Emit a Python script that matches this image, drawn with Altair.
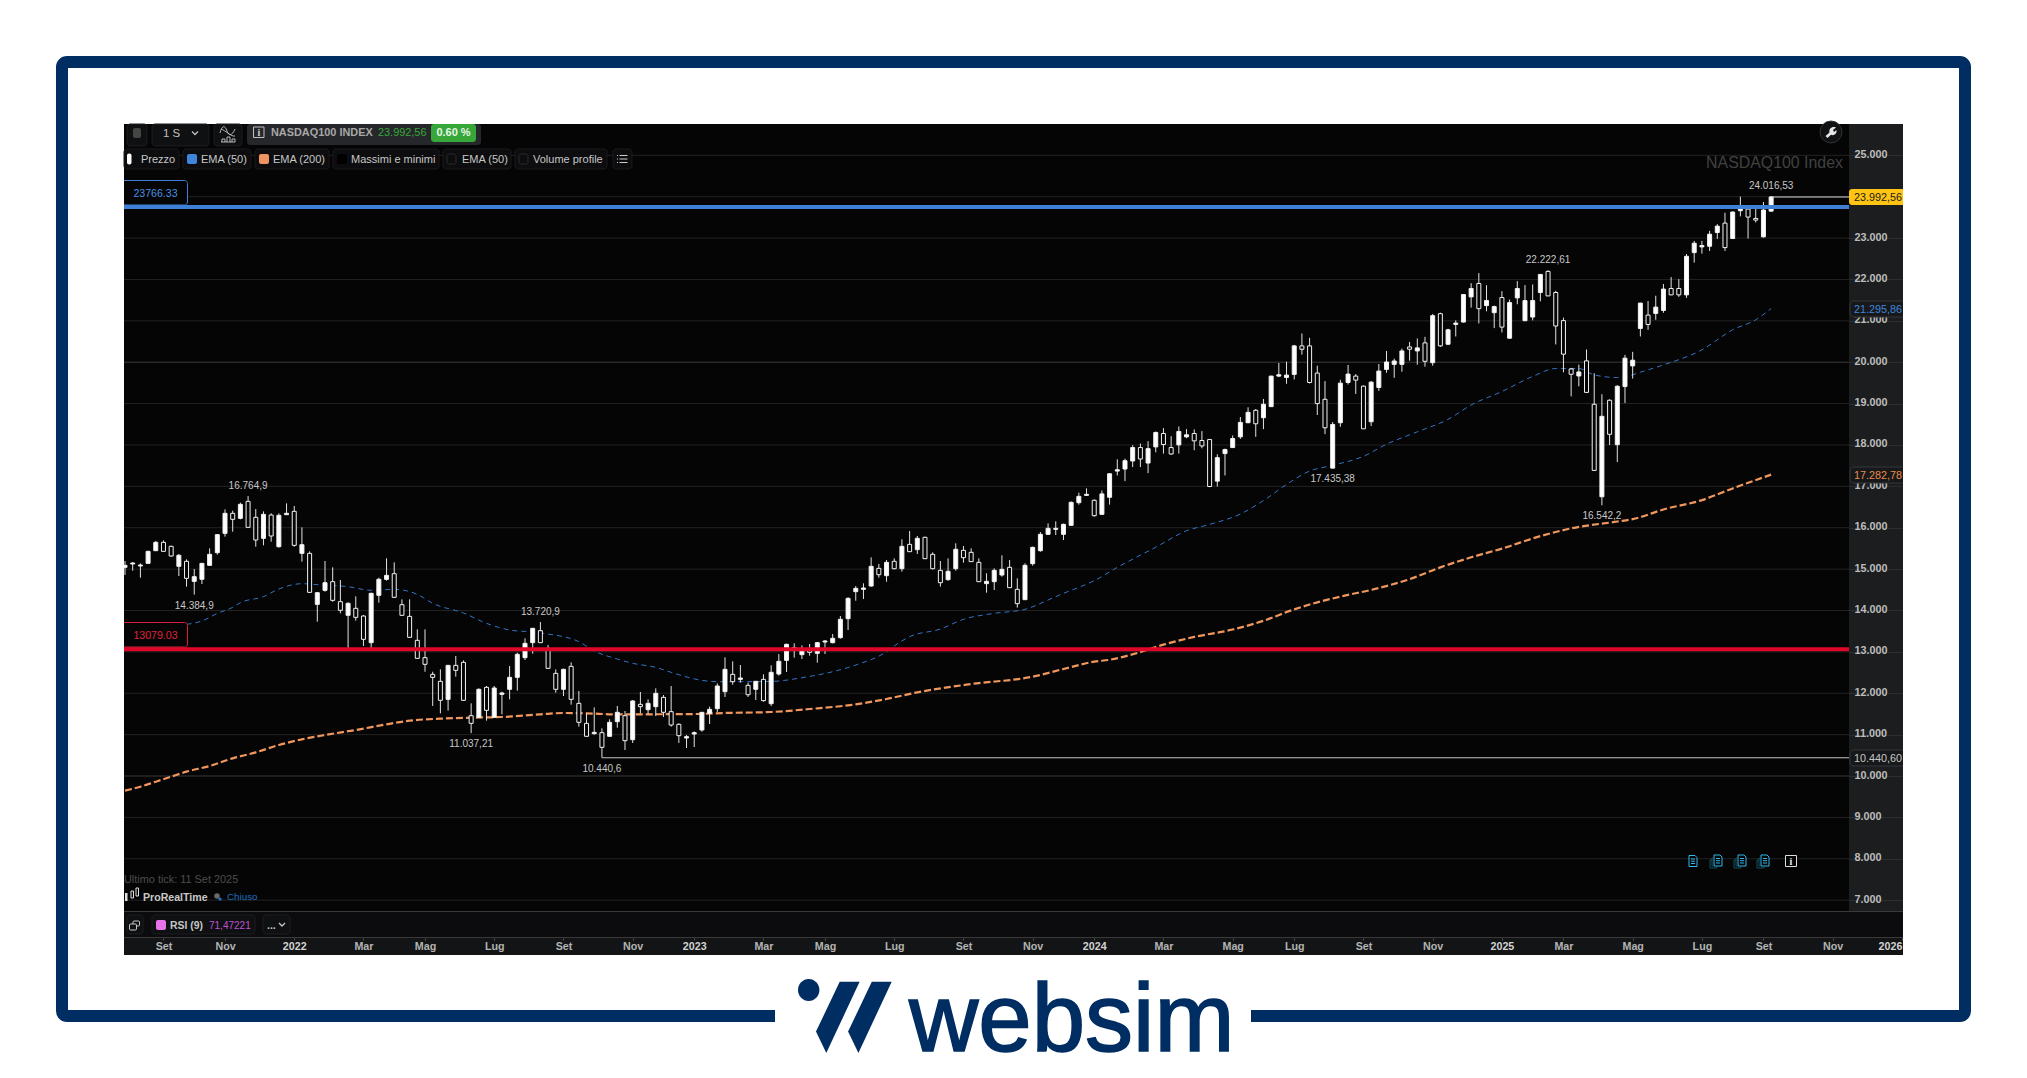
import altair as alt
import pandas as pd

# ---------- data ----------
candle_high = [
15196,15171,15139,15445,15679,15695,15566,15365,15236,15002,
15147,15502,15848,16444,16412,16605,16765,16452,16396,16348,
16348,16589,16525,16009,15429,14446,15196,15043,14737,14197,
14342,13891,14430,14793,15260,15163,14269,14269,13544,13544,
12521,12578,12683,12900,12795,11756,12119,12175,12175,12038,
12658,12981,13327,13577,13721,13166,12578,12594,12747,12054,
11514,11659,11152,11370,11692,11571,11837,12030,11853,12119,
11957,12175,11273,10991,11079,11547,11676,12239,12868,12771,
12683,12256,12296,12457,12674,12948,13198,13206,13158,13190,
13238,13287,13432,13866,14318,14591,14656,15284,15123,15220,
15260,15719,15921,15800,15784,15405,15196,15260,15623,15558,
15502,15260,14898,15018,15333,15220,14777,15139,15542,15896,
16106,16154,16098,16637,16847,16952,16686,16899,17320,17653,
17669,17993,18034,18091,18326,18407,18212,18447,18383,18375,
18334,18147,17774,17912,18229,18675,18910,18869,19112,19672,
19980,20013,20418,20694,20589,19915,19542,18553,19575,19932,
19713,19437,19542,19956,20272,20086,20329,20491,20572,20613,
21164,21197,20807,21010,21643,21910,22154,21862,21367,21716,
21513,21959,21862,21878,22129,22223,21725,21076,19862,19942,
20307,19733,19225,19104,19443,20177,20250,21436,21477,21606,
21888,22057,22008,22615,22931,22931,23174,23336,23612,23644,
24000,23774,23741,23871,24017]
body_top = [
15091,15147,15099,15429,15647,15647,15550,15333,15188,14817,
15139,15357,15832,16348,16348,16565,16637,16251,16323,16307,
16299,16348,16396,15590,15381,14430,14672,14696,14213,14173,
14052,13866,14414,14753,14849,14889,14140,13858,13279,12860,
12457,12288,12674,12674,12747,11458,12095,12143,12127,12006,
12384,12940,13206,13569,13512,13085,12481,12578,12650,11756,
11273,11055,11047,11297,11539,11458,11813,11732,11756,11998,
11901,11555,11249,10951,11047,11539,11611,12175,12578,12457,
12368,12191,12288,12336,12505,12771,13182,13101,13085,13029,
13222,13262,13327,13786,14293,14535,14543,15067,15018,15163,
15188,15550,15598,15743,15768,15357,14970,14946,15478,15453,
15405,15163,14704,14970,14994,15043,14511,15091,15526,15840,
15985,15985,16082,16613,16758,16807,16662,16817,17304,17401,
17620,17937,17937,17912,18301,18277,17937,18326,18245,18277,
18107,18131,17693,17888,18156,18545,18788,18837,18983,19664,
19696,19688,20394,20394,20394,19737,19104,18496,19494,19713,
19664,19421,19518,19786,20005,20029,20272,20369,20345,20467,
21124,21172,20783,20945,21635,21781,21902,21489,21343,21562,
21440,21781,21489,21489,22121,22194,21684,21004,19837,19764,
20032,18983,18692,19080,19419,20097,20048,21428,21138,21331,
21767,21781,21781,22559,22875,22818,23093,23288,23361,23628,
23774,23701,23474,23677,23993]
body_bottom = [
15043,15123,15075,15139,15445,15429,15316,15067,14777,14704,
14753,15091,15397,15864,16203,16227,16009,15703,15743,15800,
15542,16315,15574,15381,14438,14148,14487,14245,14004,13883,
13834,13303,13222,14366,14753,14318,13883,13351,12843,12699,
12384,11829,11853,12553,11829,11273,11418,11587,11418,11974,
12095,12384,12860,13222,13222,12602,12095,12095,11853,11297,
10959,11023,10693,10959,11313,10854,10878,11676,11603,11676,
11539,11233,10975,10918,11015,11112,11514,11627,12038,12280,
12336,11965,12095,11821,11748,12465,12795,13037,12932,12989,
12964,13238,13222,13343,13802,14455,14511,14591,14865,14841,
15010,15010,15421,15470,15252,15010,14672,14745,15010,15276,
15180,14696,14648,14696,14857,14551,14165,14261,15131,15445,
15840,15961,15840,16057,16605,16782,16291,16323,16736,17369,
17418,17612,17661,17563,17953,18010,17782,18001,18196,18099,
17977,16996,17126,17791,17937,18196,18537,18512,18658,18926,
19664,19632,19705,20313,19510,18999,18415,17440,18537,19510,
19567,18391,18561,19388,19826,19948,19948,20313,20272,20021,
19988,20394,20434,20913,20970,21578,21294,21367,21197,20848,
20580,21554,21002,21091,21683,21602,20874,20194,19708,19667,
19270,17385,16748,18257,18006,19411,19911,20815,20912,21178,
21251,21627,21627,21627,22648,22786,22802,23134,22769,22988,
23660,23507,23434,23029,23650]
candle_low = [
14857,14962,14793,15131,15445,15421,15300,14833,14575,14385,
14640,15083,15349,15784,15904,16203,16001,15542,15574,15663,
15518,16307,15542,15180,14422,13730,14455,14213,13931,13050,
13754,13142,13085,14189,14720,14302,13875,13343,12827,12521,
11692,11514,11579,12401,11821,11037,11410,11337,11410,11490,
11853,12062,12803,12956,13214,12594,12014,11933,11724,11192,
10951,10999,10441,10951,11168,10628,10798,11514,11498,11450,
11426,11192,10798,10677,10701,11071,11257,11547,11909,12207,
12256,11909,11837,11796,11692,12425,12513,12860,12827,12908,
12739,12948,13206,13319,13528,14237,14277,14575,14793,14696,
14994,14938,15413,15365,15244,14994,14575,14720,14962,15155,
15171,14688,14430,14495,14817,14543,14068,14253,15083,15421,
15832,15824,15703,16049,16557,16774,16267,16315,16558,17263,
17126,17466,17466,17320,17823,17791,17758,17791,18164,17872,
17920,16980,16996,17263,17929,18147,18529,18196,18383,18918,
19640,19478,19583,20183,19486,18723,18261,17435,18439,19461,
19234,18383,18456,19307,19745,19623,19769,20037,19940,19891,
19915,20369,20418,20621,20962,21318,20937,21229,20824,20718,
20564,21400,20994,21010,21472,21594,20429,19756,19173,19416,
19254,17377,16542,17998,17587,19015,19604,20621,20782,21025,
21194,21619,21579,21554,22405,22624,22688,22980,22688,22980,
23523,22988,23377,23013,23640]
# 1 = rising week (solid body), 0 = falling week (hollow body)
rising = [
1,1,1,1,1,0,0,1,0,1, 1,1,1,1,0,1,0,0,1,0, 1,1,0,1,0,1,1,0,0,1,
0,0,1,1,1,0,0,0,0,0, 0,0,1,0,0,0,1,0,1,1, 1,1,1,1,0,0,0,1,0,0,
0,1,0,1,1,0,1,0,1,1, 0,0,0,1,1,1,1,1,1,0, 1,0,1,0,1,1,1,0,1,0,
1,1,1,1,1,1,1,1,0,1, 0,1,0,1,0,0,0,1,1,0, 0,0,1,1,1,0,0,1,1,1,
1,1,1,1,1,1,0,1,1,1, 1,1,0,1,1,0,0,1,1,0, 0,0,1,1,1,1,1,0,1,1,
1,1,1,0,0,0,0,1,1,1, 0,0,1,1,1,1,1,0,1,0, 1,0,1,1,1,1,0,1,1,0,
1,1,1,1,1,0,0,0,0,1, 0,0,1,0,1,1,1,1,0,1, 1,0,0,1,1,1,1,1,0,1,
1,0,0,1,1]

ema50_week = [8,10,12,14,15,18,20,23,25,29,32,35,38,40,44,47,50,53,55,59,61,64,66,69,71,75,77,83,85,88,
              92,95,99,100,102,106,109,113,117,120,122,124,126,129,134,138,141,145,148,151,154,157,161,
              164,168,172,175,179,183,186,189,191,194,195,197,200,205,209,212,214]
ema50_value = [13665,13746,13931,14076,14189,14334,14519,14648,14624,14575,14487,14511,14390,14173,13939,
               13689,13528,13480,13431,13246,13021,12827,12723,12626,12505,12312,12280,12280,12296,12376,
               12521,12682,13005,13142,13367,13552,13786,13931,14028,14253,14414,14559,14720,15042,15529,
               15926,16080,16331,16656,17045,17369,17507,17726,18018,18318,18618,18967,19291,19656,19847,
               19847,19693,19629,19645,19758,19935,20299,20783,21025,21296]
ema200_week = [0,2,4,6,8,11,14,17,20,23,26,30,34,37,41,45,49,54,57,60,64,74,78,84,89,95,99,103,110,118,122,
               126,128,132,135,139,144,148,152,155,159,162,167,171,175,179,184,188,194,196,200,205,209,214]
ema200_value = [9646,9742,9863,9984,10105,10242,10427,10572,10749,10886,10991,11112,11249,11337,11386,11410,
                11426,11490,11523,11514,11490,11498,11523,11547,11619,11732,11861,12022,12223,12400,12586,
                12763,12809,12995,13174,13361,13540,13751,14027,14197,14376,14498,14757,15042,15285,15496,
                15797,15984,16150,16207,16441,16667,16950,17283]

price_ticks = list(range(7000, 25001, 1000))
# the tick at 24.000 carries no label in the reference: the price tag sits on it
price_labels = [7000, 8000, 9000, 10000, 11000, 12000, 13000, 14000, 15000, 16000, 17000, 18000,
                19000, 20000, 21000, 22000, 23000, 25000]
time_ticks = ["2021-09-06","2021-11-01","2022-01-03","2022-03-07","2022-05-02","2022-07-04","2022-09-05",
              "2022-11-07","2023-01-02","2023-03-06","2023-05-01","2023-07-03","2023-09-04","2023-11-06",
              "2024-01-01","2024-03-04","2024-05-06","2024-07-01","2024-09-02","2024-11-04","2025-01-06",
              "2025-03-03","2025-05-05","2025-07-07","2025-09-01","2025-11-03","2026-01-05"]
month_names = ["Gen","Feb","Mar","Apr","Mag","Giu","Lug","Ago","Set","Ott","Nov","Dic"]

label_above_week = [16, 54, 185, 214]
label_above_value = [16764.9, 13720.9, 22222.61, 24016.53]
label_above_text = ["16.764,9", "13.720,9", "22.222,61", "24.016,53"]
label_below_week = [9, 45, 62, 157, 192]
label_below_value = [14384.9, 11037.21, 10440.6, 17435.38, 16542.2]
label_below_text = ["14.384,9", "11.037,21", "10.440,6", "17.435,38", "16.542,2"]

resistance = 23766.33
support = 13079.03
last_price = 23992.56
low_price = 10440.6

# ---------- tables ----------
dates = pd.date_range("2021-08-02", periods=len(candle_high), freq="7D")
candles = pd.DataFrame({"date": dates, "high": candle_high, "top": body_top, "bottom": body_bottom,
                        "low": candle_low, "rising": rising})
ema50 = pd.DataFrame({"date": dates[ema50_week], "value": ema50_value})
ema200 = pd.DataFrame({"date": dates[ema200_week], "value": ema200_value})
above = pd.DataFrame({"date": dates[label_above_week], "value": label_above_value, "text": label_above_text})
below = pd.DataFrame({"date": dates[label_below_week], "value": label_below_value, "text": label_below_text})
grid = pd.DataFrame({"price": price_ticks})
one = pd.DataFrame({"a": [0]})

# ---------- geometry of the screenshot ----------
OX, OY = 124, 124          # page position of the plot area
W, H = 1779, 787           # plot area: price pane + price axis column
PANE_W = 1725
FONT = "Liberation Sans"
NAVY = "#002d62"
PANE = "#050505"

x_scale = alt.Scale(domain=["2021-08-01T02:00:00", "2026-01-06T00:00:00"], padding=0)
y_scale = alt.Scale(domain=[6738, 25756], zero=False, nice=False, padding=0)

def X(field, **kw):
    return alt.X(field, type="temporal", scale=x_scale, title=None, **kw)

def Y(field, **kw):
    return alt.Y(field, type="quantitative", scale=y_scale, title=None, **kw)

x_axis = alt.Axis(values=[t + "T00:00:00" for t in time_ticks], offset=27, zindex=1, domain=False, grid=False,
                  tickSize=2, tickColor="#555555", labelPadding=1, labelFont=FONT, labelFontSize=10.7,
                  labelFontWeight="bold", labelOverlap=False, labelFlush=False,
                  labelColor={"condition": {"test": "month(datum.value)==0", "value": "#d2d2d2"}, "value": "#b4b4b4"},
                  labelAlign={"condition": {"test": "year(datum.value)==2026", "value": "right"}, "value": "center"},
                  labelExpr="month(datum.value)==0 ? timeFormat(datum.value,'%Y') : "
                            + str(month_names) + "[month(datum.value)]")
y_axis = alt.Axis(values=price_labels, orient="right", offset=-(W - PANE_W), zindex=0, domain=False,
                  ticks=False, grid=True, gridColor="#2c2d2f", labelPadding=5, labelOffset=-1, labelFont=FONT,
                  labelFontSize=10.8, labelFontWeight="bold", labelColor="#bdbdbd", labelOverlap=False, labelFlush=False,
                  labelExpr="replace(format(datum.value,','),',','.')")

def rect(x0, y0, x1, y1, fill, stroke=None, radius=0, sw=1):
    kw = dict(fill=fill, cornerRadius=radius, opacity=1)
    if stroke:
        kw.update(stroke=stroke, strokeWidth=sw)
    return alt.Chart(one).mark_rect(**kw).encode(
        x=alt.value(x0 - OX), x2=alt.value(x1 - OX), y=alt.value(y0 - OY), y2=alt.value(y1 - OY))

def label(x, y, s, size=11, color="#c6c6c6", weight="normal", align="left", baseline="middle", font=FONT, **kw):
    nudge = 0.8 if baseline == "middle" else 0
    return alt.Chart(one).mark_text(text=s, font=font, fontSize=size, fontWeight=weight, color=color,
                                    align=align, baseline=baseline, **kw).encode(
        x=alt.value(x - OX), y=alt.value(y - OY + nudge))

def glyph(x, y, path, fill=None, stroke=None, sw=1.0):
    kw = dict(shape=path, size=4, opacity=1)
    if fill:
        kw.update(filled=True, fill=fill, strokeWidth=0)
    else:
        kw.update(filled=False, stroke=stroke, strokeWidth=sw)
    return alt.Chart(one).mark_point(**kw).encode(x=alt.value(x - OX), y=alt.value(y - OY))

layers = []

# ----- frame and logo -----
layers += [rect(62, 62, 1965, 1016, "transparent", NAVY, 5, 12),
           rect(775, 1005, 1251, 1040, "#ffffff")]
layers += [glyph(850, 1017.4, "M-10.3,-35.6 L9.6,-35.6 L-23.7,35.6 L-34,14.2 Z", fill=NAVY),
           glyph(850, 1017.4, "M21.8,-35.6 L41.7,-35.6 L8.4,35.6 L-1.9,14.2 Z", fill=NAVY),
           glyph(808.7, 990, "M-10.7,0 A10.7,11 0 1 0 10.7,0 A10.7,11 0 1 0 -10.7,0 Z", fill=NAVY)]
layers.append(label(909, 1051, "websim", size=96, color=NAVY, baseline="alphabetic", stroke=NAVY, strokeWidth=1.6))

# ----- panes -----
layers += [rect(OX, OY, OX + PANE_W, OY + H, PANE),
           rect(OX, 911, 1903, 938, "#0c0c0e"),
           rect(OX, 938, 1903, 955, "#131416"),
           rect(OX, 911, 1903, 912, "#3a3a3a"),
           rect(OX, 937, 1903, 938, "#3a3a3a")]

# ----- grid -----
layers.append(alt.Chart(grid).mark_rule(strokeWidth=1).encode(
    y=Y("price"), x=alt.value(0), x2=alt.value(PANE_W),
    color=alt.condition("datum.price % 10000 == 0", alt.value("#3a3a3a"), alt.value("#232323"))))

# ----- watermark, moving averages -----
layers.append(label(1843, 162, "NASDAQ100 Index", size=15.9, color="#414141", align="right"))
layers.append(alt.Chart(ema200).mark_line(color="#f2975c", strokeWidth=2.2, strokeDash=[7, 3], interpolate="monotone")
              .encode(x=X("date"), y=Y("value")))
layers.append(alt.Chart(ema50).mark_line(color="#3274c4", strokeWidth=1, strokeDash=[5, 4], interpolate="monotone")
              .encode(x=X("date"), y=Y("value")))

# ----- candles -----
layers.append(alt.Chart(candles).mark_rule(color="#e4e4e4", strokeWidth=1).encode(
    x=X("date", axis=x_axis), y=Y("low", axis=y_axis), y2="high"))
layers.append(alt.Chart(candles).mark_bar(size=4, stroke="#f2f2f2", strokeWidth=1).encode(
    x=X("date"), y=Y("bottom"), y2="top",
    fill=alt.condition("datum.rising == 1", alt.value("#ffffff"), alt.value(PANE))))

# ----- level lines -----
layers.append(alt.Chart(pd.DataFrame({"date": [dates[62]], "value": [low_price]})).mark_rule(color="#c4c4c4", strokeWidth=1)
              .encode(x=X("date"), x2=alt.value(PANE_W), y=Y("value")))
layers.append(alt.Chart(pd.DataFrame({"date": [dates[214]], "value": [last_price]})).mark_rule(color="#d8d8d8", strokeWidth=1)
              .encode(x=X("date"), x2=alt.value(PANE_W), y=Y("value")))
layers.append(alt.Chart(pd.DataFrame({"value": [resistance]})).mark_rule(color="#3f80d4", strokeWidth=4, yOffset=0.7)
              .encode(y=Y("value"), x=alt.value(0), x2=alt.value(PANE_W)))
layers.append(alt.Chart(pd.DataFrame({"value": [support]})).mark_rule(color="#e0062a", strokeWidth=4, yOffset=0.7)
              .encode(y=Y("value"), x=alt.value(0), x2=alt.value(PANE_W)))

# ----- extreme labels -----
for frame, dy in ((above, -10), (below, 11)):
    layers.append(alt.Chart(frame).mark_text(font=FONT, fontSize=10, color="#c8c8c8", align="center",
                                             baseline="middle", dy=dy)
                  .encode(x=X("date"), y=Y("value"), text="text:N"))

# ----- level boxes on the left -----
layers += [rect(OX - 4, 180.5, 187.5, 205, PANE, "#3f80d4", 3),
           label(155.5, 193, "23766.33", size=10.6, color="#4a90e2", align="center"),
           rect(OX - 4, 622.5, 187.5, 647, PANE, "#d81e3a", 3),
           label(155.5, 635, "13079.03", size=10.6, color="#e0203e", align="center"),
           rect(112, 120, OX, 960, "#ffffff")]

# ----- top toolbar -----
layers += [rect(127, 124, 147, 146, "#0f1012", "#1c1d20", 3),
           rect(133, 128, 141, 138, "#454545", None, 2),
           rect(152, 124, 209, 146, "#0f1012", "#1c1d20", 3),
           label(163, 133, "1 S", size=11.5, color="#c0c0c0"),
           glyph(195, 133, "M-3,-1.5 L0,1.5 L3,-1.5", stroke="#c0c0c0", sw=1.3),
           rect(214, 124, 242, 146, "#0f1012", "#1c1d20", 3),
           glyph(228, 134, "M-8,-1 C-6,-9 -3,-9 -1,-3 C1,2 4,2 7,-5 M-7,-5 C-3,-4 3,3 7,2 M-7,8 H7 M-6,8 V5 H-3 V8 M-1,8 V3 H2 V8 M4,8 V5 H7 V8",
                 stroke="#c8c8c8", sw=0.9),
           rect(247, 124, 481, 145, "#26272a", None, 3),
           rect(253.5, 127, 264, 137.5, "#26272a", "#c0c0c0", 0, 1),
           label(258.8, 132, "i", size=10, color="#d0d0d0", align="center", weight="bold", font="Liberation Serif"),
           label(271, 132.5, "NASDAQ100 INDEX", size=10.9, color="#a8a8a8", weight="bold"),
           label(378, 132.5, "23.992,56", size=10.9, color="#37a739"),
           rect(431, 124, 476, 142, "#37a739", None, 3),
           label(453.5, 132.5, "0.60 %", size=11, color="#e8f5e8", weight="bold", align="center")]

chips = [(124, 179, "Prezzo", 141, None),
         (183, 251, "EMA (50)", 201, "#3f86da"),
         (255, 329, "EMA (200)", 273, "#ef9460"),
         (333, 439, "Massimi e minimi", 351, "#000000"),
         (443, 511, "EMA (50)", 462, ""),
         (515, 607, "Volume profile", 533, "")]
for x0, x1, name, tx, swatch in chips:
    layers.append(rect(x0, 149, x1, 169, "#0d0d0f", "#1a1b1e", 3))
    layers.append(label(tx, 159.3, name, size=11, color="#c6c6c6"))
    if swatch is None:
        layers.append(rect(127, 153.5, 131.5, 164.5, "#ffffff", None, 2))
    elif swatch == "":
        layers.append(rect(x0 + 4, 154, x0 + 13, 164, "#0d0d0f", "#2a2b2e", 2))
    else:
        layers.append(rect(x0 + 4, 154, x0 + 14, 164, swatch, None, 2))
layers.append(rect(613, 149, 632, 169, "#0d0d0f", "#1a1b1e", 3))
layers.append(glyph(622.5, 159, "M-3,-3.5 H5 M-3,0 H5 M-3,3.5 H5 M-5.5,-3.5 H-4.5 M-5.5,0 H-4.5 M-5.5,3.5 H-4.5", stroke="#cccccc", sw=1.2))

# wrench button
layers.append(alt.Chart(one).mark_point(shape="circle", size=480, filled=True, fill="#101113", stroke="#333333",
                                        strokeWidth=1, opacity=1).encode(x=alt.value(1831 - OX), y=alt.value(132 - OY)))
layers.append(glyph(1831, 132, "M-5.5,4 L-1.5,0.5 C-2.5,-3 1,-6 5,-4.5 L2,-2 L3,0 L5.5,-2 C6,2 3,4 0,2.8 L-3.5,6 Z", fill="#e6e6e6"))

# ----- price tags on the axis -----
layers += [rect(1849, 189, 1906, 205, "#ffc414", None, 3),
           label(1854, 197, "23.992,56", size=10.8, color="#1a1a1a"),
           rect(1850, 301, 1906, 317, "#17181a", "#35363a", 4),
           label(1854, 309, "21.295,86", size=10.8, color="#3f86da"),
           rect(1850, 467, 1906, 483, "#17181a", "#35363a", 4),
           label(1854, 475, "17.282,78", size=10.8, color="#e98a4d"),
           rect(1850, 750, 1906, 766, "#17181a", "#35363a", 4),
           label(1854, 758, "10.440,60", size=10.8, color="#c8c8c8"),
           rect(1903, 120, 1915, 960, "#ffffff")]

# ----- news icons -----
DOC = "M-4,-5.5 H2 L4,-3.5 V5.5 H-4 Z M-2,-2 H2 M-2,0.2 H2 M-2,2.5 H2"
layers.append(glyph(1693, 861, DOC, stroke="#2fb8ec"))
for ix in (1717, 1741, 1764):
    layers.append(rect(ix - 7, 860, ix + 0, 868, PANE, "#15505f"))
    layers.append(rect(ix - 5, 858, ix + 2, 866, PANE, "#15505f"))
    layers.append(rect(ix - 4, 855, ix + 5, 867, PANE))
    layers.append(glyph(ix + 1, 860.5, DOC, stroke="#2fb8ec"))
layers += [rect(1785.5, 855.5, 1796.5, 866.5, PANE, "#dddddd", 0, 1),
           label(1791, 861, "i", size=10, color="#eeeeee", weight="bold", align="center", font="Liberation Serif")]

# ----- bottom-left notes -----
layers += [label(124, 879, "Ultimo tick: 11 Set 2025", size=10.9, color="#4c4c4c"),
           rect(125, 893, 127.5, 901, "#e0e0e0"),
           rect(131, 891, 133.5, 898, PANE, "#e0e0e0"),
           rect(136, 888, 138.5, 896, PANE, "#e0e0e0"),
           label(143, 897, "ProRealTime", size=10.6, color="#c8c8c8", weight="bold"),
           alt.Chart(one).mark_point(shape="circle", size=30, filled=True, fill="#6a6a6a", opacity=1)
           .encode(x=alt.value(217 - OX), y=alt.value(896 - OY)),
           alt.Chart(one).mark_point(shape="circle", size=10, filled=True, fill="#1e78d8", opacity=1)
           .encode(x=alt.value(220 - OX), y=alt.value(899 - OY)),
           label(227, 896.5, "Chiuso", size=9.8, color="#1e6fc0")]

# ----- RSI row -----
layers += [rect(127, 915, 143, 934, "#0f1012", "#1c1d20", 3),
           rect(133, 921, 139.5, 926, "#0f1012", "#c8c8c8", 1),
           rect(129.5, 924, 136.5, 930, "#0f1012", "#c8c8c8", 1),
           rect(152, 915, 255, 934, "#0f1012", "#1c1d20", 3),
           rect(156, 920, 166, 930, "#e873e8", None, 2),
           label(170, 925, "RSI (9)", size=10.4, color="#c6c6c6", weight="bold"),
           label(209, 925, "71,47221", size=10, color="#c050d0"),
           rect(263, 915, 290, 934, "#0f1012", "#1c1d20", 3),
           label(267, 925, "...", size=10.5, color="#c6c6c6", weight="bold"),
           glyph(282, 924.5, "M-3,-1.5 L0,1.5 L3,-1.5", stroke="#c6c6c6", sw=1.3)]

chart = alt.layer(*layers).properties(
    width=W, height=H,
    padding={"left": OX - 8, "top": OY - 8, "right": 2011 - (OX - 8) - W, "bottom": 1062 - (OY - 8) - H},
    autosize=alt.AutoSizeParams(type="none"),
).configure_view(fill="#1c1d1f", stroke=None)

chart.save("out.html", embed_options={"renderer": "svg", "actions": False})
